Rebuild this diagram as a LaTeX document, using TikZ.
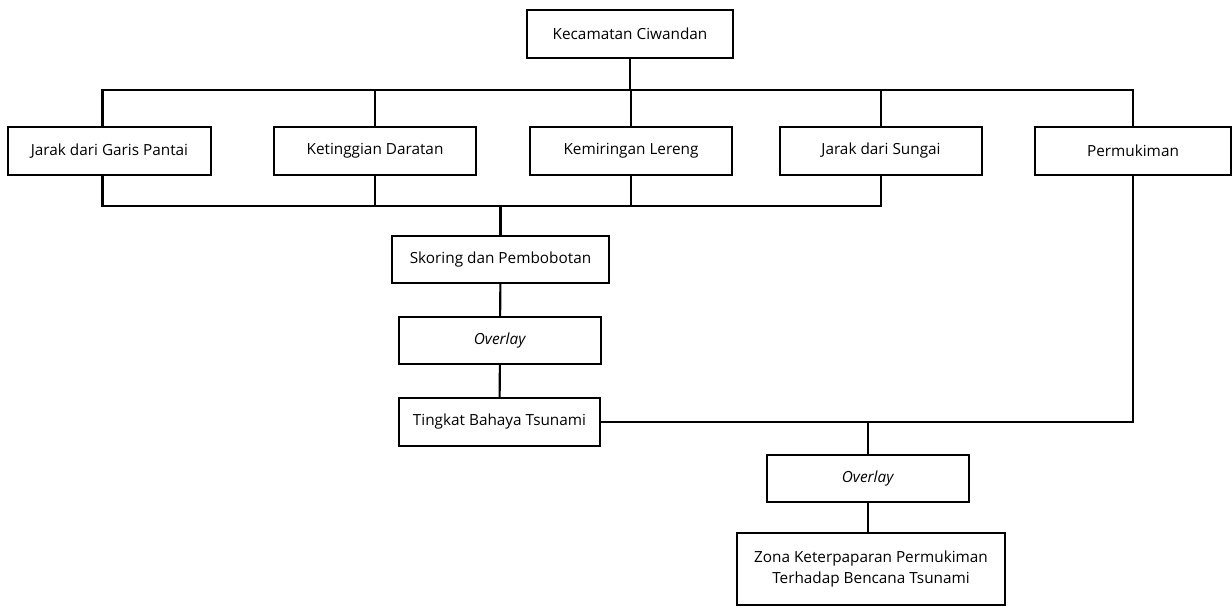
\documentclass[tikz,border=0pt]{standalone}
\usepackage{fontspec}
\setmainfont{Open Sans}
\usetikzlibrary{positioning}
\tikzset{
  box/.style={draw, line width=1.5pt, minimum height=1.2cm, align=center, inner sep=2pt,
    font=\fontsize{10.9}{15}\selectfont},
  link/.style={line width=1.5pt}
}

\begin{document}
\begin{tikzpicture}[x=0.025cm, y=-0.025cm]
\useasboundingbox (0,0) rectangle (1232,608);
% Study area
\node[box, minimum width=5.15cm] (kec) at (630,34) {Kecamatan Ciwandan};
% Parameters
\node[box, minimum width=5.075cm] (jgp) at (109.5,151) {Jarak dari Garis Pantai};
\node[box, minimum width=5.05cm] (ktd) at (375,151) {Ketinggian Daratan};
\node[box, minimum width=5.05cm] (kml) at (631,151) {Kemiringan Lereng};
\node[box, minimum width=5.05cm] (jds) at (881,151) {Jarak dari Sungai};
\node[box, minimum width=4.9cm] (pmk) at (1133,151) {Permukiman};
% Processing
\node[box, minimum width=5.425cm, minimum height=1.175cm] (skb) at (500.5,259.5) {Skoring dan Pembobotan};
\node[box, minimum width=5.05cm, minimum height=1.175cm] (ov1) at (500,340.5) {\textit{Overlay}};
\node[box, minimum width=5.025cm] (tbt) at (499.5,422) {Tingkat Bahaya Tsunami};
\node[box, minimum width=5.05cm, minimum height=1.175cm] (ov2) at (868,478.5) {\textit{Overlay}};
\node[box, minimum width=6.7cm, minimum height=1.8cm] (zkp) at (871,569) {Zona Keterpaparan Permukiman\\Terhadap Bencana Tsunami};

% Connectors
\coordinate (topbus) at (630,90);
\coordinate (midbus) at (500,206);
\draw[link] (kec.south) -- (kec.south |- topbus);
\draw[link] ([xshift=-5pt]jgp.north) -- ([xshift=-5pt]jgp.north |- topbus) -- (pmk.north |- topbus) -- (pmk.north);
\foreach \n in {ktd,kml,jds}
  \draw[link] (\n.north) -- (\n.north |- topbus);
\draw[link] ([xshift=-5pt]jgp.south) -- ([xshift=-5pt]jgp.south |- midbus) -- (jds.south |- midbus) -- (jds.south);
\foreach \n in {ktd,kml}
  \draw[link] (\n.south) -- (\n.south |- midbus);
\draw[link] (skb.north |- midbus) -- (skb.north);
\draw[link] (skb) -- (ov1);
\draw[link] (ov1) -- (tbt);
\draw[link] (tbt.east) -- (pmk.south |- tbt.east) -- (pmk.south);
\coordinate (join) at (ov2.north |- tbt.east);
\draw[link] (join) -- (ov2.north);
\draw[link] (ov2.south) -- (ov2.south |- zkp.north);
\end{tikzpicture}
\end{document}
